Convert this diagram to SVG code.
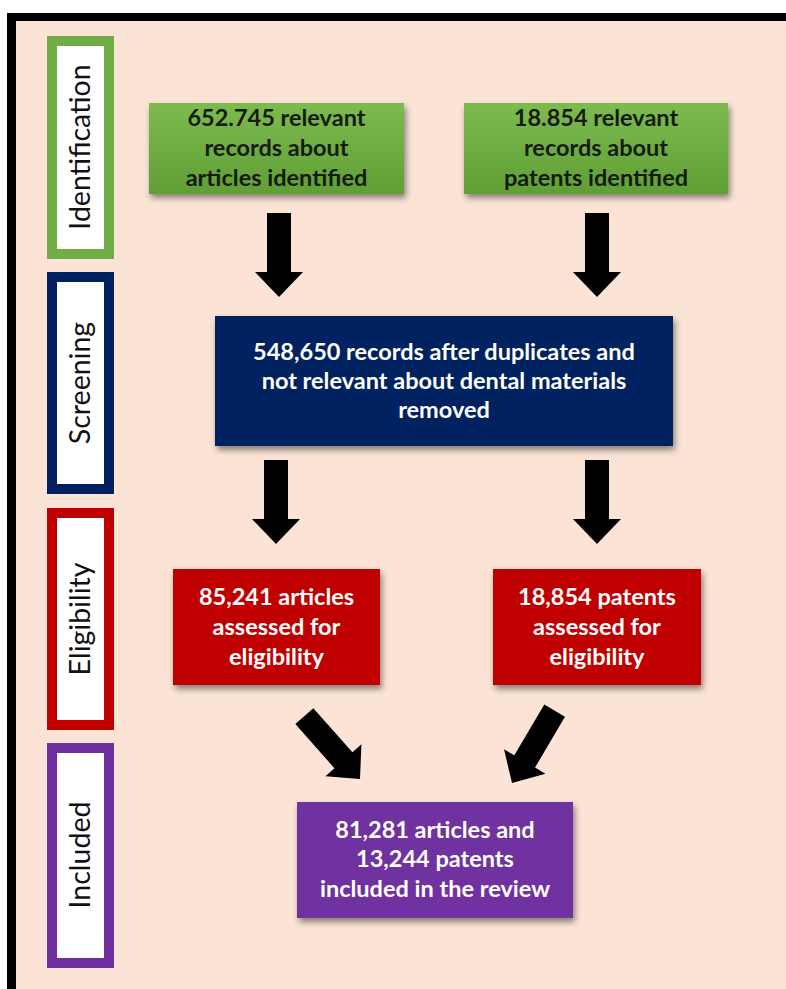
<svg xmlns="http://www.w3.org/2000/svg" width="786" height="989" viewBox="0 0 786 989">
<style>
.lbl{fill:#ffffff;stroke-width:10}
.side{font-family:Lato,"Open Sans",sans-serif;font-size:28.5px;fill:#111;text-anchor:middle}
.bt{font-family:Lato,"Open Sans",sans-serif;font-size:23.5px;font-weight:bold;text-anchor:middle}
.dark{fill:#161a10}
.white{fill:#ffffff}
.arrow{fill:#000}
</style>
<defs>
<linearGradient id="gr" x1="0" y1="0" x2="0" y2="1">
<stop offset="0" stop-color="#7dbb4f"/>
<stop offset="1" stop-color="#5f9f35"/>
</linearGradient>
<filter id="sh" x="-10%" y="-10%" width="125%" height="130%">
<feDropShadow dx="2" dy="4" stdDeviation="3" flood-color="#000" flood-opacity="0.45"/>
</filter>
<path id="arr" d="M -12,-84 H 12 V -25 H 24 L 0,0 L -24,-25 H -12 Z"/>
</defs>
<rect x="0" y="0" width="786" height="989" fill="#ffffff"/>
<rect x="16" y="21" width="780" height="980" fill="#fbe4d6"/>
<rect x="7" y="13" width="790" height="8" fill="#000"/>
<rect x="7" y="13" width="9" height="990" fill="#000"/>

<g id="label-identification">
<rect class="lbl" x="52" y="41" width="57" height="213" stroke="#70ad47"/>
<text class="side" transform="translate(80,147) rotate(-90)" x="0" y="10">Identification</text>
</g>
<g id="label-screening">
<rect class="lbl" x="52" y="277" width="57" height="212" stroke="#002060"/>
<text class="side" transform="translate(80,383) rotate(-90)" x="0" y="10">Screening</text>
</g>
<g id="label-eligibility">
<rect class="lbl" x="52" y="513" width="57" height="212" stroke="#c00000"/>
<text class="side" transform="translate(80,619) rotate(-90)" x="0" y="10">Eligibility</text>
</g>
<g id="label-included">
<rect class="lbl" x="52" y="748" width="57" height="215" stroke="#7030a0"/>
<text class="side" transform="translate(80,855) rotate(-90)" x="0" y="10">Included</text>
</g>

<g id="node-articles-identified">
<rect x="149" y="103" width="255" height="91" fill="url(#gr)" filter="url(#sh)"/>
<text class="bt dark" x="276.5" y="126">652.745 relevant</text>
<text class="bt dark" x="276.5" y="156">records about</text>
<text class="bt dark" x="276.5" y="186">articles identified</text>
</g>
<g id="node-patents-identified">
<rect x="464" y="103" width="264" height="91" fill="url(#gr)" filter="url(#sh)"/>
<text class="bt dark" x="596" y="126">18.854 relevant</text>
<text class="bt dark" x="596" y="156">records about</text>
<text class="bt dark" x="596" y="186">patents identified</text>
</g>
<g id="node-screening">
<rect x="215" y="316" width="458" height="130" fill="#002060" filter="url(#sh)"/>
<text class="bt white" x="444" y="360">548,650 records after duplicates and</text>
<text class="bt white" x="444" y="389">not relevant about dental materials</text>
<text class="bt white" x="444" y="418">removed</text>
</g>
<g id="node-articles-eligibility">
<rect x="173" y="569" width="207" height="116" fill="#c00000" filter="url(#sh)"/>
<text class="bt white" x="276.5" y="605">85,241 articles</text>
<text class="bt white" x="276.5" y="635">assessed for</text>
<text class="bt white" x="276.5" y="665">eligibility</text>
</g>
<g id="node-patents-eligibility">
<rect x="493" y="569" width="208" height="116" fill="#c00000" filter="url(#sh)"/>
<text class="bt white" x="597" y="605">18,854 patents</text>
<text class="bt white" x="597" y="635">assessed for</text>
<text class="bt white" x="597" y="665">eligibility</text>
</g>
<g id="node-included">
<rect x="297" y="802" width="276" height="116" fill="#7030a0" filter="url(#sh)"/>
<text class="bt white" x="435" y="838">81,281 articles and</text>
<text class="bt white" x="435" y="867">13,244 patents</text>
<text class="bt white" x="435" y="897">included in the review</text>
</g>

<g id="connectors">
<use href="#arr" class="arrow" transform="translate(279,297)"/>
<use href="#arr" class="arrow" transform="translate(597,297)"/>
<use href="#arr" class="arrow" transform="translate(276,544)"/>
<use href="#arr" class="arrow" transform="translate(597,544)"/>
<use href="#arr" class="arrow" transform="translate(360,779) rotate(-41.5)"/>
<use href="#arr" class="arrow" transform="translate(512,783) rotate(30.5)"/>
</g>
</svg>
